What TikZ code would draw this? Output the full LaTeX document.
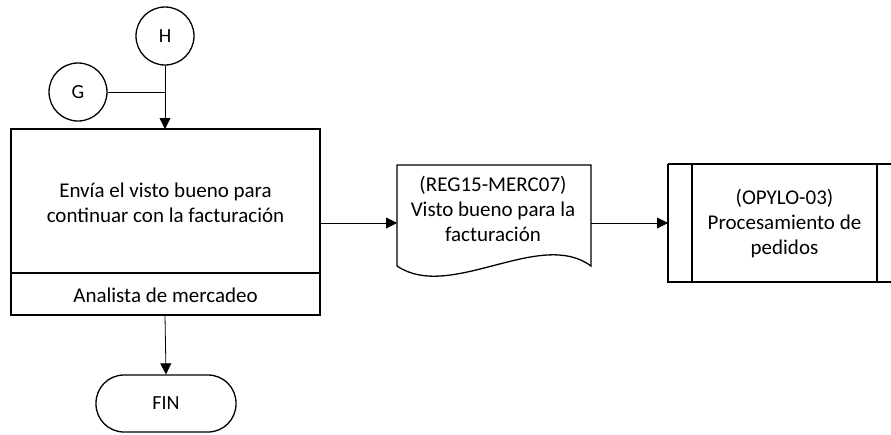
\documentclass[tikz,border=0pt]{standalone}
\usepackage{fontspec}
\setmainfont{Carlito}
\usetikzlibrary{arrows.meta}
\begin{document}
\begin{tikzpicture}[x=1pt,y=-1pt,
  shp/.style={draw=black,line width=1.3pt},
  conn/.style={draw=black,line width=0.8pt},
  arr/.style={conn,-{Triangle[length=11pt,width=11pt]}},
  txt/.style={font=\fontsize{21}{25}\selectfont,align=center,inner sep=0pt}]
\useasboundingbox (0,0) rectangle (891,434);
% connectors circles
\node[shp,circle,minimum size=58pt,inner sep=0pt,font=\fontsize{20}{24}\selectfont] (H) at (165,36) {H};
\node[shp,circle,minimum size=58pt,inner sep=0pt,font=\fontsize{20}{24}\selectfont] (G) at (78,92) {G};
% main box
\draw[shp] (11,129) rectangle (320,315);
\draw[shp] (11,273) -- (320,273);
\coordinate (boxtop) at (165,129);
\coordinate (boxbot) at (165,315);
\coordinate (boxright) at (320,223);
\coordinate (join) at (165,92);
\node[txt] (t1) at (165.5,203) {Envía el visto bueno para\\continuar con la facturación};
\node[txt] (t2) at (165.5,295) {Analista de mercadeo};
% document
\draw[shp] (397,266) -- (397,165) -- (591,165) -- (591,266)
  .. controls (540,228) and (450,302) .. (397,266) -- cycle;
\coordinate (docleft) at (397,223);
\coordinate (docright) at (591,223);
\node[txt] (doc) at (493,209) {(REG15-MERC07)\\Visto bueno para la\\facturación};
% predefined process
\draw[shp] (668,164) -- (893,164) (668,164) -- (668,282) -- (893,282);
\draw[shp] (692,164) -- (692,282);
\draw[shp] (877,164) -- (877,282);
\coordinate (procleft) at (668,223);
\node[txt] (proc) at (784.5,224) {(OPYLO-03)\\Procesamiento de\\pedidos};
% FIN
\node[shp,rounded corners=28pt,minimum width=140pt,minimum height=57pt,inner sep=0pt,font=\fontsize{20}{24}\selectfont] (fin) at (166,403.5) {FIN};
% edges
\draw[conn] (G.east) -- (join);
\draw[arr] (H.south) -- (boxtop);
\draw[arr] (boxright) -- (docleft);
\draw[arr] (docright) -- (procleft);
\draw[arr] (boxbot) -- (fin.north);
\end{tikzpicture}
\end{document}
